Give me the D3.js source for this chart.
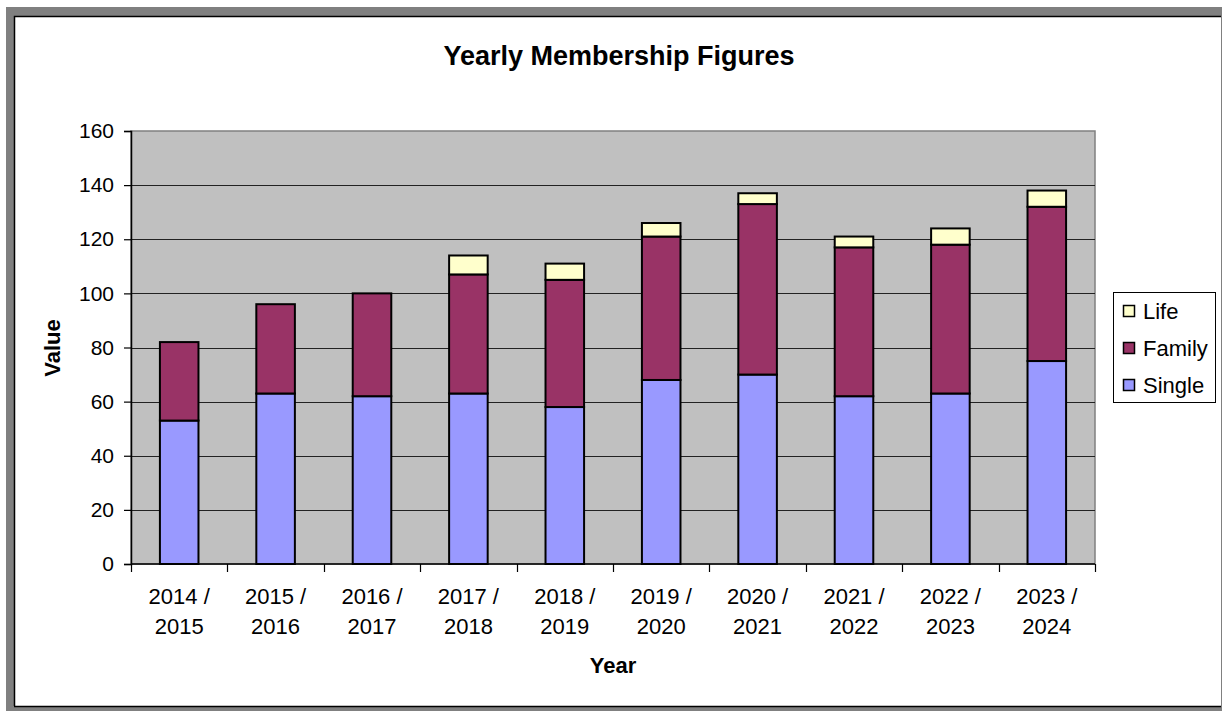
<!DOCTYPE html>
<html>
<head>
<meta charset="utf-8">
<script src="https://cdn.jsdelivr.net/npm/d3@7"></script>
<style>
  body { margin: 0; background: #fff; }
  text { font-family: Arial, "Liberation Sans", sans-serif; }
</style>
</head>
<body>
<svg id="chart" width="1222" height="711"></svg>
<script>
// seasons shown along the x axis
const years = ["2014 / 2015", "2015 / 2016", "2016 / 2017", "2017 / 2018", "2018 / 2019",
               "2019 / 2020", "2020 / 2021", "2021 / 2022", "2022 / 2023", "2023 / 2024"]
const single = [53, 63, 62, 63, 58, 68, 70, 62, 63, 75]
const family = [29, 33, 38, 44, 47, 53, 63, 55, 55, 57]
const life   = [0, 0, 0, 7, 6, 5, 4, 4, 6, 6]
const yTicks = [0, 20, 40, 60, 80, 100, 120, 140, 160]

const SERIES = ["Single", "Family", "Life"]
const COLORS = {Single: "#9999FF", Family: "#993366", Life: "#FFFFCC"}

const width = 1222, height = 711
const plot = {left: 131, right: 1095, top: 131, bottom: 564}

const svg = d3.select("#chart")

// window-like frame round the chart
svg.append("rect").attr("x", 6).attr("y", 7).attr("width", width - 6).attr("height", height - 7)
  .attr("fill", "#808080")
svg.append("rect").attr("x", 14).attr("y", 16).attr("width", 1207).attr("height", 690)
  .attr("fill", "#fff")
svg.append("path").attr("d", "M14.5,706 V16.5 H1221").attr("fill", "none").attr("stroke", "#000").attr("stroke-width", 1.5)
svg.append("path").attr("d", "M14,706.5 H1221").attr("fill", "none").attr("stroke", "#000").attr("stroke-width", 1.5)

const rows = years.map((y, i) => ({year: y, Single: single[i], Family: family[i], Life: life[i]}))
const stacked = d3.stack().keys(SERIES)(rows)

const x = d3.scaleBand()
  .domain(years)
  .range([plot.left, plot.right])
  .paddingInner(0.6)
  .paddingOuter(0.3)

// same categories without padding, for the tick marks between them
const xOuter = d3.scaleBand().domain(years).range([plot.left, plot.right])

const y = d3.scaleLinear()
  .domain([0, 160])
  .range([plot.bottom, plot.top])

// plot area
svg.append("rect")
  .attr("x", plot.left).attr("y", plot.top)
  .attr("width", plot.right - plot.left).attr("height", plot.bottom - plot.top)
  .attr("fill", "#C0C0C0")
  .attr("stroke", "#808080").attr("stroke-width", 1.5)

// gridlines
svg.append("g").selectAll("line")
  .data(yTicks.filter(t => t > 0 && t < 160))
  .join("line")
  .attr("x1", plot.left).attr("x2", plot.right)
  .attr("y1", d => Math.round(y(d)) + 0.5).attr("y2", d => Math.round(y(d)) + 0.5)
  .attr("stroke", "#222").attr("stroke-width", 1.2)

// bars
svg.append("g").selectAll("g")
  .data(stacked)
  .join("g")
  .attr("fill", d => COLORS[d.key])
  .selectAll("rect")
  .data(d => d.filter(s => s[1] - s[0] > 0))
  .join("rect")
  .attr("x", d => x(d.data.year))
  .attr("y", d => y(d[1]))
  .attr("width", x.bandwidth())
  .attr("height", d => y(d[0]) - y(d[1]))
  .attr("stroke", "#000")
  .attr("stroke-width", 2)

// y axis
const yAxis = svg.append("g")
  .attr("transform", `translate(${plot.left},0)`)
  .call(d3.axisLeft(y).tickValues(yTicks).tickSize(7).tickPadding(10))
yAxis.select(".domain").attr("stroke", "#000").attr("stroke-width", 1.5)
yAxis.selectAll(".tick line").attr("stroke", "#000").attr("stroke-width", 1.2)
yAxis.selectAll(".tick text").attr("font-size", 21).attr("fill", "#000")
  .attr("font-family", "Arial, 'Liberation Sans', sans-serif")

// x axis line and tick marks at the category boundaries
svg.append("line")
  .attr("x1", plot.left).attr("x2", plot.right)
  .attr("y1", plot.bottom).attr("y2", plot.bottom)
  .attr("stroke", "#000").attr("stroke-width", 1.5)
svg.append("g").selectAll("line")
  .data(years.map(d => xOuter(d)).concat([plot.right]))
  .join("line")
  .attr("x1", d => Math.round(d) + 0.5).attr("x2", d => Math.round(d) + 0.5)
  .attr("y1", plot.bottom).attr("y2", plot.bottom + 8)
  .attr("stroke", "#000").attr("stroke-width", 1.2)

// two line category labels
const xLabels = svg.append("g").selectAll("text")
  .data(years)
  .join("text")
  .attr("text-anchor", "middle")
  .attr("font-size", 22)
  .attr("fill", "#000")
xLabels.append("tspan")
  .attr("x", d => x(d) + x.bandwidth() / 2)
  .attr("y", 604)
  .text(d => d.split(" / ")[0] + " /")
xLabels.append("tspan")
  .attr("x", d => x(d) + x.bandwidth() / 2)
  .attr("y", 634)
  .text(d => d.split(" / ")[1])

// titles
svg.append("text")
  .attr("x", 619).attr("y", 65)
  .attr("text-anchor", "middle")
  .attr("font-size", 27).attr("font-weight", "bold")
  .text("Yearly Membership Figures")

svg.append("text")
  .attr("x", 613).attr("y", 673)
  .attr("text-anchor", "middle")
  .attr("font-size", 22).attr("font-weight", "bold")
  .text("Year")

svg.append("text")
  .attr("transform", "translate(60,348) rotate(-90)")
  .attr("text-anchor", "middle")
  .attr("font-size", 22).attr("font-weight", "bold")
  .text("Value")

// legend, Life on top
const legend = svg.append("g")
legend.append("rect")
  .attr("x", 1113.5).attr("y", 292.5).attr("width", 102).attr("height", 110)
  .attr("fill", "#fff").attr("stroke", "#000").attr("stroke-width", 1)

const legendItems = legend.selectAll("g.item")
  .data(SERIES.slice().reverse())
  .join("g")
  .attr("class", "item")
  .attr("transform", (d, i) => `translate(1123,${311 + i * 37})`)
legendItems.append("rect")
  .attr("x", 0.5).attr("y", -5.5).attr("width", 11).attr("height", 11)
  .attr("fill", d => COLORS[d]).attr("stroke", "#000").attr("stroke-width", 1.5)
legendItems.append("text")
  .attr("x", 20).attr("y", 7.5)
  .attr("font-size", 22)
  .text(d => d)
</script>
</body>
</html>
